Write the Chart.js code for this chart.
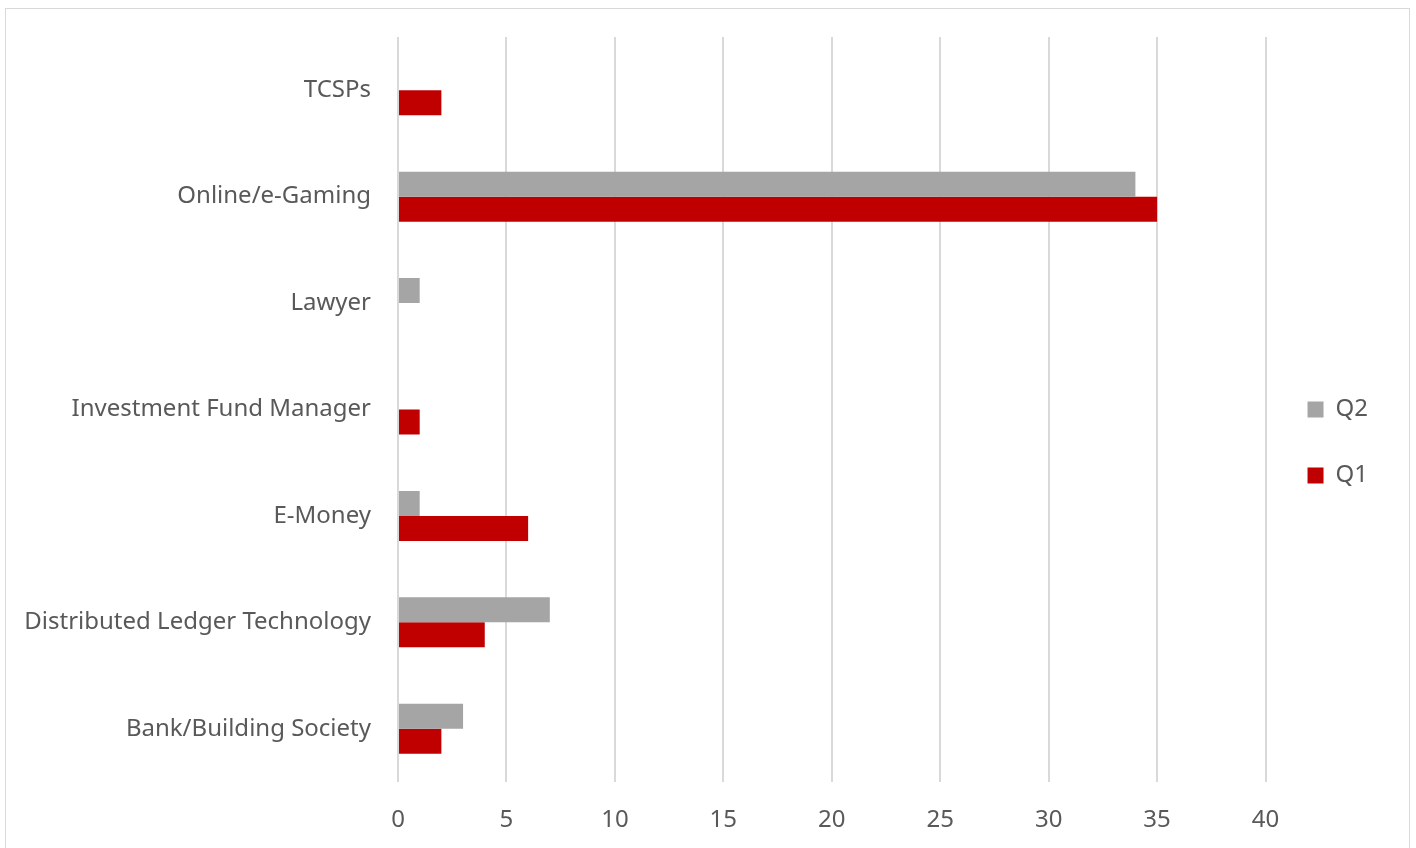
<!DOCTYPE html>
<html lang="en">
<head>
    <meta charset="UTF-8">
    <title>Sectors by quarter</title>
    <script src="https://cdn.jsdelivr.net/npm/chart.js"></script>
    <style>
        body {
            margin: 0;
            background: #ffffff;
            overflow: hidden;
        }
        #frame {
            position: absolute;
            left: 5px;
            top: 8px;
            width: 1403px;
            height: 900px;
            border: 1px solid #d9d9d9;
        }
        #wrap {
            position: absolute;
            left: 0;
            top: 0;
            width: 1416px;
            height: 848px;
        }
    </style>
</head>
<body>
    <div id="frame"></div>
    <div id="wrap">
        <canvas id="chart" width="1416" height="848"></canvas>
    </div>
    <script>
        // categories, top to bottom
        const sectors = [
            'TCSPs',
            'Online/e-Gaming',
            'Lawyer',
            'Investment Fund Manager',
            'E-Money',
            'Distributed Ledger Technology',
            'Bank/Building Society'
        ];
        const q2Values = [0, 34, 1, 0, 1, 7, 3];
        const q1Values = [2, 35, 0, 1, 6, 4, 2];
        const xTicks = [0, 5, 10, 15, 20, 25, 30, 35, 40];

        const textColor = '#595959';
        const fontFamily = '"Noto Sans", sans-serif';

        const ctx = document.getElementById('chart').getContext('2d');
        const chart = new Chart(ctx, {
            type: 'bar',
            data: {
                labels: sectors,
                datasets: [{
                    label: 'Q2',
                    data: q2Values,
                    backgroundColor: '#a5a5a5'
                }, {
                    label: 'Q1',
                    data: q1Values,
                    backgroundColor: '#c00000'
                }]
            },
            options: {
                indexAxis: 'y',
                responsive: false,
                animation: false,
                categoryPercentage: 0.47,
                barPercentage: 1.0,
                layout: {
                    padding: { top: 37, right: 38, bottom: 0, left: 0 }
                },
                plugins: {
                    tooltip: { enabled: false },
                    legend: {
                        position: 'right',
                        align: 'center',
                        labels: {
                            boxWidth: 16,
                            boxHeight: 16,
                            padding: 42,
                            color: textColor,
                            font: { family: fontFamily, size: 24 }
                        }
                    }
                },
                scales: {
                    x: {
                        min: 0,
                        max: 40,
                        afterBuildTicks: (s) => { s.ticks = xTicks.map(v => ({ value: v })); },
                        afterFit: (s) => { s.height = 66; },
                        border: { display: false },
                        grid: {
                            color: '#d9d9d9',
                            lineWidth: 2,
                            drawTicks: false
                        },
                        ticks: {
                            padding: 24,
                            color: textColor,
                            font: { family: fontFamily, size: 24 }
                        }
                    },
                    y: {
                        afterFit: (s) => {
                            s.width = 398;
                            // keep the label padding from pushing the plot down
                            s.paddingTop = 0;
                            s.paddingBottom = 0;
                        },
                        border: { display: false },
                        grid: { display: false, drawTicks: false },
                        ticks: {
                            padding: 27,
                            color: textColor,
                            font: { family: fontFamily, size: 24 }
                        }
                    }
                }
            }
        });
    </script>
</body>
</html>
